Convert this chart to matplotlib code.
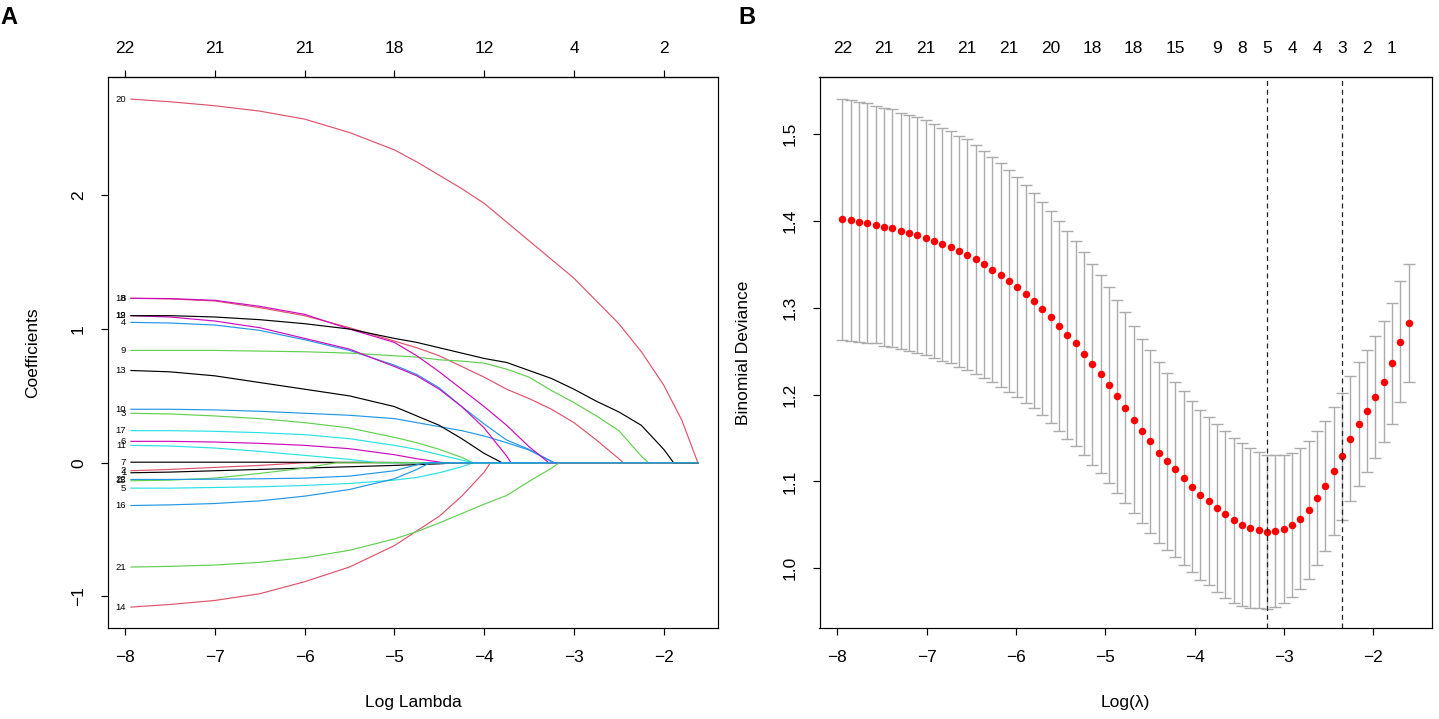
import numpy as np
import matplotlib
matplotlib.use("Agg")
import matplotlib.pyplot as plt

# ---------------- data ----------------
# Panel A: LASSO coefficient paths (value at each grid log-lambda, until the coefficient enters 0)
PATH_GRID = [-7.94, -7.5, -7.0, -6.5, -6.0, -5.5, -5.0, -4.75, -4.5, -4.25,
             -4.0, -3.75, -3.5, -3.25, -3.0, -2.75, -2.5, -2.25, -2.0, -1.8]
PATH_END = -1.61

V01 = [-0.075, -0.07, -0.06, -0.05, -0.04, -0.03, -0.02, -0.014, -0.008]
V02 = [-0.06, -0.05, -0.035, -0.02]
V03 = [0.37, 0.365, 0.35, 0.33, 0.30, 0.26, 0.19, 0.15, 0.10, 0.04]
V04 = [1.05, 1.045, 1.03, 0.99, 0.92, 0.84, 0.73, 0.66, 0.56, 0.42, 0.29, 0.17, 0.10, 0.01]
V05 = [-0.19, -0.19, -0.185, -0.18, -0.17, -0.155, -0.13, -0.11, -0.075, -0.03]
V06 = [0.16, 0.16, 0.155, 0.145, 0.13, 0.105, 0.06, 0.03, 0.005]
V07 = [0.004, 0.004, 0.004, 0.004, 0.003, 0.003, 0.002, 0.001]
V08 = [1.23, 1.225, 1.21, 1.16, 1.10, 1.01, 0.91, 0.86, 0.80, 0.72, 0.64, 0.55, 0.48, 0.40, 0.30, 0.17, 0.03]
V09 = [0.84, 0.84, 0.84, 0.835, 0.83, 0.82, 0.80, 0.79, 0.77, 0.76, 0.745, 0.70, 0.64, 0.54, 0.45, 0.35, 0.24, 0.05]
V10 = [0.40, 0.40, 0.395, 0.385, 0.37, 0.355, 0.33, 0.30, 0.27, 0.24, 0.20, 0.15, 0.095, 0.01]
V11 = [0.13, 0.125, 0.11, 0.085, 0.055, 0.025]
V12 = [1.10, 1.09, 1.06, 1.01, 0.93, 0.85, 0.72, 0.65, 0.55, 0.42, 0.26, 0.05]
V13 = [0.69, 0.68, 0.65, 0.60, 0.55, 0.50, 0.42, 0.35, 0.28, 0.18, 0.07]
V14 = [-1.08, -1.06, -1.03, -0.98, -0.89, -0.78, -0.62, -0.51, -0.40, -0.25, -0.07]
V15 = [-0.135, -0.13, -0.115, -0.08, -0.04]
V16 = [-0.32, -0.315, -0.305, -0.285, -0.25, -0.20, -0.12, -0.05]
V17 = [0.24, 0.24, 0.235, 0.225, 0.21, 0.18, 0.13, 0.10, 0.06, 0.02]
V18 = [1.23, 1.228, 1.215, 1.17, 1.11, 1.00, 0.90, 0.80, 0.68, 0.55, 0.42, 0.28, 0.12]
V19 = [1.10, 1.10, 1.09, 1.07, 1.04, 1.00, 0.93, 0.90, 0.86, 0.82, 0.78, 0.75, 0.69, 0.63, 0.55, 0.46, 0.38, 0.28, 0.10]
V20 = [2.72, 2.70, 2.67, 2.63, 2.57, 2.47, 2.34, 2.25, 2.15, 2.05, 1.94, 1.80, 1.66, 1.52, 1.38, 1.21, 1.04, 0.83, 0.58, 0.32]
V21 = [-0.78, -0.775, -0.765, -0.745, -0.71, -0.655, -0.57, -0.515, -0.45, -0.38, -0.31, -0.245, -0.14, -0.04]
V22 = [-0.125, -0.125, -0.123, -0.12, -0.115, -0.10, -0.06, -0.015]
PATHS = [V01, V02, V03, V04, V05, V06, V07, V08, V09, V10, V11,
         V12, V13, V14, V15, V16, V17, V18, V19, V20, V21, V22]
ENTRY = [-4.3, -6.0, -4.12, -3.22, -4.12, -4.45, -4.5, -2.45, -2.17, -3.22, -5.18,
         -3.70, -3.80, -3.93, -5.65, -4.6, -4.12, -3.28, -1.89, -1.62, -3.16, -4.65]

A_XTICKS = [-8, -7, -6, -5, -4, -3, -2]
A_TOP_LABELS = ["22", "21", "21", "18", "12", "4", "2"]
A_YTICKS = [-1, 0, 1, 2]

# Panel B: cross-validation curve
LOGLAM_START = -7.944
LOGLAM_STEP = 0.0932
CVM = [1.402, 1.401, 1.399, 1.398, 1.396, 1.393, 1.392, 1.389, 1.386, 1.384,
       1.381, 1.377, 1.373, 1.370, 1.365, 1.361, 1.356, 1.350, 1.344, 1.338,
       1.331, 1.324, 1.316, 1.308, 1.299, 1.289, 1.279, 1.269, 1.259, 1.247,
       1.235, 1.224, 1.211, 1.198, 1.185, 1.171, 1.158, 1.146, 1.133, 1.123,
       1.114, 1.104, 1.094, 1.084, 1.077, 1.069, 1.062, 1.055, 1.050, 1.046,
       1.044, 1.0415, 1.0425, 1.045, 1.050, 1.057, 1.067, 1.081, 1.095, 1.112,
       1.129, 1.149, 1.166, 1.181, 1.197, 1.215, 1.236, 1.261, 1.283]
CVSD = [0.139, 0.139, 0.138, 0.138, 0.137, 0.137, 0.137, 0.136, 0.136, 0.136,
        0.135, 0.135, 0.134, 0.134, 0.133, 0.133, 0.132, 0.131, 0.130, 0.129,
        0.128, 0.127, 0.126, 0.124, 0.123, 0.122, 0.121, 0.120, 0.118, 0.117,
        0.116, 0.114, 0.113, 0.111, 0.110, 0.108, 0.106, 0.105, 0.104, 0.102,
        0.101, 0.100, 0.099, 0.098, 0.097, 0.097, 0.096, 0.095, 0.094, 0.092,
        0.090, 0.089, 0.0875, 0.085, 0.083, 0.081, 0.079, 0.077, 0.075, 0.074,
        0.073, 0.072, 0.071, 0.070, 0.070, 0.070, 0.070, 0.070, 0.068]
B_TOP_IDX = [0, 5, 10, 15, 20, 25, 30, 35, 40, 45, 48, 51, 54, 57, 60, 63, 66]
B_TOP_LABELS = ["22", "21", "21", "21", "21", "20", "18", "18", "15", "9",
                "8", "5", "4", "4", "3", "2", "1"]
B_XTICKS = [-8, -7, -6, -5, -4, -3, -2]
B_YTICKS = [1.0, 1.1, 1.2, 1.3, 1.4, 1.5]

PALETTE = ["#000000", "#DF536B", "#61D04F", "#2297E6", "#28E2E5", "#CD0BBC"]

# ---------------- figure ----------------
plt.rcParams["font.family"] = ["Liberation Sans", "DejaVu Sans"]
W, H = 1439, 719
fig = plt.figure(figsize=(W / 100, H / 100), dpi=100)


def px_axes(l, t, r, b):
    return fig.add_axes([l / W, 1 - b / H, (r - l) / W, (b - t) / H])


def ftext(x, y, s, **kw):
    fig.text(x / W, 1 - y / H, s, **kw)


FS = 12.5
TICK_LEN = 5.0
LW = 0.85


def style_axes(ax):
    for sp in ax.spines.values():
        sp.set_linewidth(LW)
        sp.set_color("black")
    ax.tick_params(direction="out", length=TICK_LEN, width=LW, labelsize=FS, pad=10.8)
    for lab in ax.get_yticklabels():
        lab.set_rotation(90)
        lab.set_va("center")
        lab.set_ha("right")


# ----- Panel A -----
axA = px_axes(108, 77, 718, 628)
for i, vals in enumerate(PATHS):
    n = len(vals)
    xs = PATH_GRID[:n] + [ENTRY[i], PATH_END]
    ys = list(vals) + [0.0, 0.0]
    axA.plot(xs, ys, color=PALETTE[i % 6], lw=0.85, solid_capstyle="butt",
             solid_joinstyle="round")
    axA.annotate(str(i + 1), (PATH_GRID[0], vals[0]), xytext=(-3.0, 0),
                 textcoords="offset points", ha="right", va="center", fontsize=6.8)
axA.set_xlim(-8.189, -1.396)
axA.set_ylim(-1.236, 2.885)
axA.set_xticks(A_XTICKS)
axA.set_yticks(A_YTICKS)
style_axes(axA)
topA = axA.secondary_xaxis("top")
topA.set_xticks(A_XTICKS, labels=A_TOP_LABELS)
topA.tick_params(direction="out", length=TICK_LEN, width=LW, labelsize=FS, pad=10.3)
topA.spines["top"].set_linewidth(LW)

ftext(413, 703, "Log Lambda", ha="center", va="center", fontsize=FS)
ftext(33, 352.5, "Coefficients", ha="center", va="center", rotation=90, fontsize=FS)
ftext(0, 17, "A", ha="left", va="center", fontsize=17, fontweight="bold")

# ----- Panel B -----
axB = px_axes(819.5, 77, 1431.5, 628)
loglam = LOGLAM_START + LOGLAM_STEP * np.arange(len(CVM))
cvm = np.array(CVM)
cvsd = np.array(CVSD)
axB.errorbar(loglam, cvm, yerr=cvsd, fmt="none", ecolor="#ABABAB",
             elinewidth=1.0, capsize=4.3, capthick=1.0)
axB.plot(loglam, cvm, "o", color="#FF0000", ms=5.4, mec="none")
i_min = int(np.argmin(cvm))
thr = cvm[i_min] + cvsd[i_min]
i_1se = max(i for i in range(len(cvm)) if cvm[i] <= thr)
for idx in (i_min, i_1se):
    axB.axvline(loglam[idx], color="#222222", lw=0.9, ls=(0, (4, 3)))
axB.set_xlim(-8.2, -1.35)
axB.set_ylim(0.931, 1.566)
axB.set_xticks(B_XTICKS)
axB.set_yticks(B_YTICKS)
axB.set_yticklabels([f"{v:.1f}" for v in B_YTICKS])
style_axes(axB)
topB = axB.secondary_xaxis("top")
topB.set_xticks(loglam[B_TOP_IDX], labels=B_TOP_LABELS)
topB.tick_params(length=0, labelsize=FS, pad=15.3)
topB.spines["top"].set_linewidth(LW)

ftext(1125.5, 703, "Log(\u03bb)", ha="center", va="center", fontsize=FS)
ftext(744, 352.5, "Binomial Deviance", ha="center", va="center", rotation=90, fontsize=FS)
ftext(738, 17, "B", ha="left", va="center", fontsize=17, fontweight="bold")

fig.savefig("out.png", dpi=100)
